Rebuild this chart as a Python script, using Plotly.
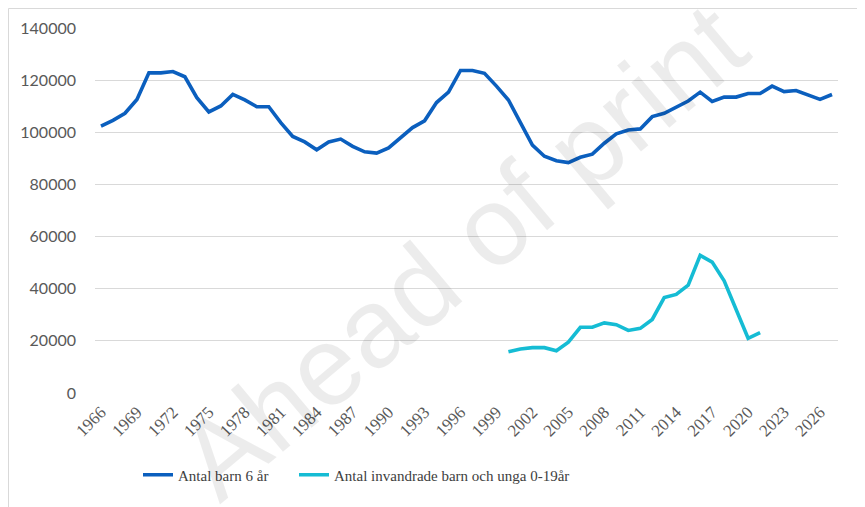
import plotly.graph_objects as go

years = list(range(1966, 2028))
barn6 = [102400, 104600, 107300, 112600, 122800, 122800, 123300, 121300, 113300, 107800,
         110100, 114500, 112400, 109800, 109800, 103700, 98400, 96300, 93300, 96300,
         97400, 94600, 92500, 92000, 94000, 97900, 101800, 104400, 111400, 115400,
         123700, 123700, 122600, 117700, 112400, 103700, 95100, 90800, 89100, 88400,
         90400, 91600, 95800, 99400, 100900, 101300, 106000, 107300, 109500, 112000,
         115400, 111800, 113500, 113500, 114900, 114900, 117700, 115600, 116000, 114200,
         112600, 114500]
inv_years = list(range(2000, 2022))
invandrade = [15850, 16900, 17400, 17400, 16200, 19500, 25200, 25200, 26900, 26200,
              24000, 24800, 28200, 36600, 37800, 41400, 52800, 50200, 43000, 32000,
              21000, 23200]
tick_years = list(range(1966, 2027, 3))
y_ticks = [0, 20000, 40000, 60000, 80000, 100000, 120000, 140000]

fig = go.Figure()
fig.add_trace(go.Scatter(x=years, y=barn6, mode="lines", name="Antal barn 6 år",
                         line=dict(color="#0b5fbe", width=3.6), legend="legend"))
fig.add_trace(go.Scatter(x=inv_years, y=invandrade, mode="lines",
                         name="Antal invandrade barn och unga 0-19år",
                         line=dict(color="#15bcd4", width=3.6), legend="legend2"))

OFF = 8  # page body margin
W, H = 865 - OFF, 507 - OFF
L, T = 95 - OFF, 28 - OFF
R = W - (838 - OFF)
B = H - (393 - OFF)
pw, ph = W - L - R, H - T - B

def px_x(p):
    return (p - OFF - L) / pw

def px_y(p):
    return (H - B - (p - OFF)) / ph

fig.add_shape(type="rect", xref="paper", yref="paper",
              x0=px_x(8.5), x1=px_x(900), y0=px_y(8.5), y1=px_y(540),
              line=dict(color="#d9d9d9", width=1), layer="below")

fig.add_annotation(text="Ahead of print", xref="paper", yref="paper",
                   x=px_x(462), y=px_y(252), showarrow=False, textangle=-40,
                   font=dict(family="Liberation Sans, Arial", size=112,
                             color="rgba(0,0,0,0.075)"))

legend_font = dict(family="Liberation Serif, Times New Roman, serif", size=15, color="#404040")

fig.update_layout(
    width=W, height=H,
    margin=dict(l=L, r=R, t=T, b=B, autoexpand=False),
    plot_bgcolor="white", paper_bgcolor="white",
    showlegend=True,
    legend=dict(orientation="h", x=px_x(138), xanchor="left", y=px_y(475), yanchor="middle",
                font=legend_font, itemwidth=30),
    legend2=dict(orientation="h", x=px_x(294), xanchor="left", y=px_y(475), yanchor="middle",
                 font=legend_font, itemwidth=30),
    xaxis=dict(range=[1965.5, 2027.5], tickmode="array", tickvals=tick_years,
               ticktext=[str(t) for t in tick_years], tickangle=-45, automargin=False,
               showgrid=False, zeroline=False, showline=False, ticks="",
               ticklabelstandoff=5,
               tickfont=dict(family="Liberation Serif, Times New Roman, serif", size=17,
                             color="#595959")),
    yaxis=dict(range=[0, 140000], tickmode="array", tickvals=y_ticks,
               ticktext=[str(v) for v in y_ticks], automargin=False,
               showgrid=True, gridcolor="#d9d9d9", gridwidth=1,
               zeroline=False, showline=False, ticks="", ticklabelstandoff=18,
               tickfont=dict(family="Lato, Liberation Sans, sans-serif", size=16,
                             color="#595959")),
)

fig.write_html("out.html")
